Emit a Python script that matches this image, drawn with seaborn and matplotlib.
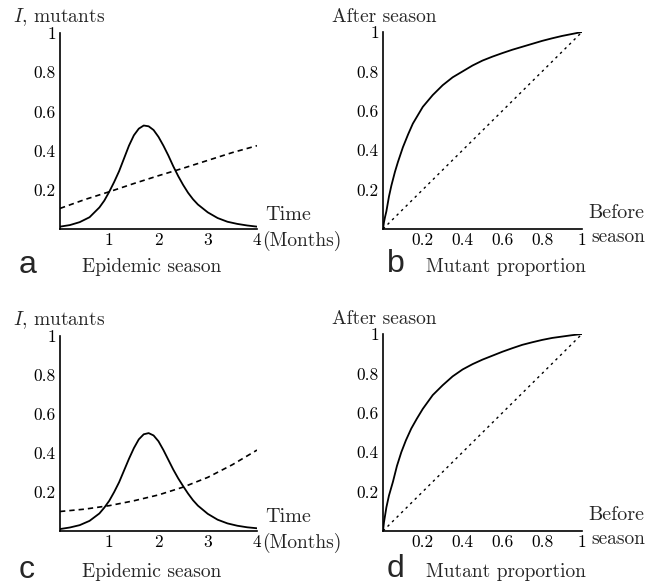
import numpy as np
import pandas as pd
import matplotlib
matplotlib.use("Agg")
import matplotlib.pyplot as plt
import seaborn as sns

# time axis (months) for the epidemic panels
t_inf = [0.0, 0.2, 0.4, 0.6, 0.8, 0.9, 1.0, 1.1, 1.2, 1.3, 1.4, 1.5, 1.6, 1.7, 1.8, 1.9, 2.0,
         2.1, 2.2, 2.3, 2.4, 2.5, 2.6, 2.7, 2.8, 3.0, 3.2, 3.4, 3.6, 3.8, 4.0]
infected_a = [0.012, 0.02, 0.035, 0.06, 0.11, 0.145, 0.19, 0.24, 0.295, 0.36, 0.425, 0.478, 0.512,
              0.528, 0.524, 0.505, 0.47, 0.425, 0.375, 0.32, 0.27, 0.225, 0.185, 0.152, 0.125,
              0.085, 0.056, 0.037, 0.026, 0.018, 0.012]
infected_c = [0.01, 0.018, 0.03, 0.052, 0.09, 0.12, 0.155, 0.2, 0.25, 0.31, 0.37, 0.425, 0.47,
              0.496, 0.502, 0.49, 0.46, 0.415, 0.365, 0.315, 0.27, 0.23, 0.192, 0.158, 0.13,
              0.088, 0.058, 0.039, 0.027, 0.019, 0.014]

t_mut = [0.0, 0.5, 1.0, 1.5, 2.0, 2.5, 3.0, 3.5, 4.0]
mutants_a = [0.105, 0.15, 0.19, 0.232, 0.272, 0.31, 0.35, 0.39, 0.425]
mutants_c = [0.1, 0.112, 0.13, 0.155, 0.185, 0.225, 0.275, 0.34, 0.415]

# mutant proportion before / after the season
before_b = [0.0, 0.005, 0.01, 0.017, 0.03, 0.042, 0.06, 0.075, 0.1, 0.126, 0.15, 0.2, 0.25, 0.3,
            0.35, 0.4, 0.45, 0.5, 0.55, 0.6, 0.65, 0.7, 0.75, 0.8, 0.85, 0.9, 0.95, 1.0]
after_b = [0.0, 0.035, 0.06, 0.09, 0.165, 0.22, 0.29, 0.34, 0.415, 0.48, 0.535, 0.62, 0.68, 0.73,
           0.77, 0.8, 0.83, 0.855, 0.875, 0.893, 0.91, 0.925, 0.94, 0.955, 0.968, 0.98, 0.99, 1.0]
before_d = [0.0, 0.005, 0.017, 0.03, 0.05, 0.07, 0.092, 0.115, 0.142, 0.17, 0.2, 0.25, 0.3, 0.35,
            0.4, 0.45, 0.5, 0.55, 0.6, 0.65, 0.7, 0.75, 0.8, 0.85, 0.9, 0.95, 1.0]
after_d = [0.0, 0.045, 0.12, 0.18, 0.25, 0.33, 0.4, 0.46, 0.52, 0.57, 0.62, 0.69, 0.74, 0.785,
           0.82, 0.847, 0.87, 0.89, 0.91, 0.928, 0.945, 0.958, 0.97, 0.98, 0.987, 0.994, 1.0]
diag = [0.0, 1.0]

sns.set_theme(style="white")
plt.rcParams["font.family"] = ["cmr10", "DejaVu Serif"]
plt.rcParams["mathtext.fontset"] = "cm"
plt.rcParams["axes.unicode_minus"] = False

W, H = 660, 586
fig = plt.figure(figsize=(6.6, 5.86), dpi=100)


def px(x, y):
    return x / W, 1 - y / H


def make_ax(x0, y0, x1, y1):
    l, t = px(x0, y0)
    r, b = px(x1, y1)
    return fig.add_axes([l, b, r - l, t - b])


def style(ax, xlim, xt, xtl, yt, ytl):
    ax.set_xlim(*xlim)
    ax.set_ylim(0, 1)
    ax.set_xticks(xt)
    ax.set_xticklabels(xtl)
    ax.set_yticks(yt)
    ax.set_yticklabels(ytl)
    sns.despine(ax=ax)
    for s in ["left", "bottom"]:
        ax.spines[s].set_color("black")
        ax.spines[s].set_linewidth(1.2)
    ax.tick_params(direction="in", length=2.5, width=0.6, labelsize=12.5, pad=3, colors="black")
    ax.set_xlabel("")
    ax.set_ylabel("")


yt = [0.2, 0.4, 0.6, 0.8, 1.0]
ytl = ["0.2", "0.4", "0.6", "0.8", "1"]
FS = 14

panels = [
    ("a", 60, 33, 257, 229, infected_a, mutants_a, 38),
    ("c", 60, 336, 257, 531, infected_c, mutants_c, 41),
]
for letter, x0, y0, x1, y1, inf, mut, off in panels:
    ax = make_ax(x0, y0, x1, y1)
    sns.lineplot(x=t_inf, y=inf, ax=ax, color="black", lw=1.3, estimator=None, sort=False)
    sns.lineplot(x=t_mut, y=mut, ax=ax, color="black", lw=1.2, estimator=None, sort=False,
                 linestyle=(0, (3.2, 2.4)))
    style(ax, (0, 4), [1, 2, 3, 4], ["1", "2", "3", "4"], yt, ytl)
    fig.text(*px(13, y0 - 16), "$I$, mutants", fontsize=FS, va="center", ha="left")
    fig.text(*px(x1 + 8, y1 - 14), "Time", fontsize=14.5, va="center", ha="left")
    fig.text(*px(x1 + 5, y1 + 12), "(Months)", fontsize=FS, va="center", ha="left")
    fig.text(*px(19, y1 + off - 2), letter, fontsize=23, va="center", ha="left",
             family="Liberation Sans")
    fig.text(*px(82, y1 + off), "Epidemic season", fontsize=FS, va="center", ha="left")

panels2 = [
    ("b", 383, 32, 582, 229, before_b, after_b, 38),
    ("d", 383, 334, 582, 531, before_d, after_d, 41),
]
for letter, x0, y0, x1, y1, bx, by, off in panels2:
    ax = make_ax(x0, y0, x1, y1)
    sns.lineplot(x=bx, y=by, ax=ax, color="black", lw=1.3, estimator=None, sort=False)
    sns.lineplot(x=diag, y=diag, ax=ax, color="black", lw=1.0, estimator=None, sort=False,
                 linestyle=(0, (1.8, 2.8)))
    style(ax, (0, 1), [0.2, 0.4, 0.6, 0.8, 1.0], ["0.2", "0.4", "0.6", "0.8", "1"], yt, ytl)
    fig.text(*px(332, y0 - 15), "After season", fontsize=FS, va="center", ha="left")
    fig.text(*px(x1 + 6, y1 - 16), "Before", fontsize=14.5, va="center", ha="left")
    fig.text(*px(x1 + 9, y1 + 8), "season", fontsize=FS, va="center", ha="left")
    fig.text(*px(387, y1 + off - 3), letter, fontsize=23, va="center", ha="left",
             family="Liberation Sans")
    fig.text(*px(426, y1 + off), "Mutant proportion", fontsize=FS, va="center", ha="left")

fig.savefig("out.png", dpi=100, facecolor="white")
